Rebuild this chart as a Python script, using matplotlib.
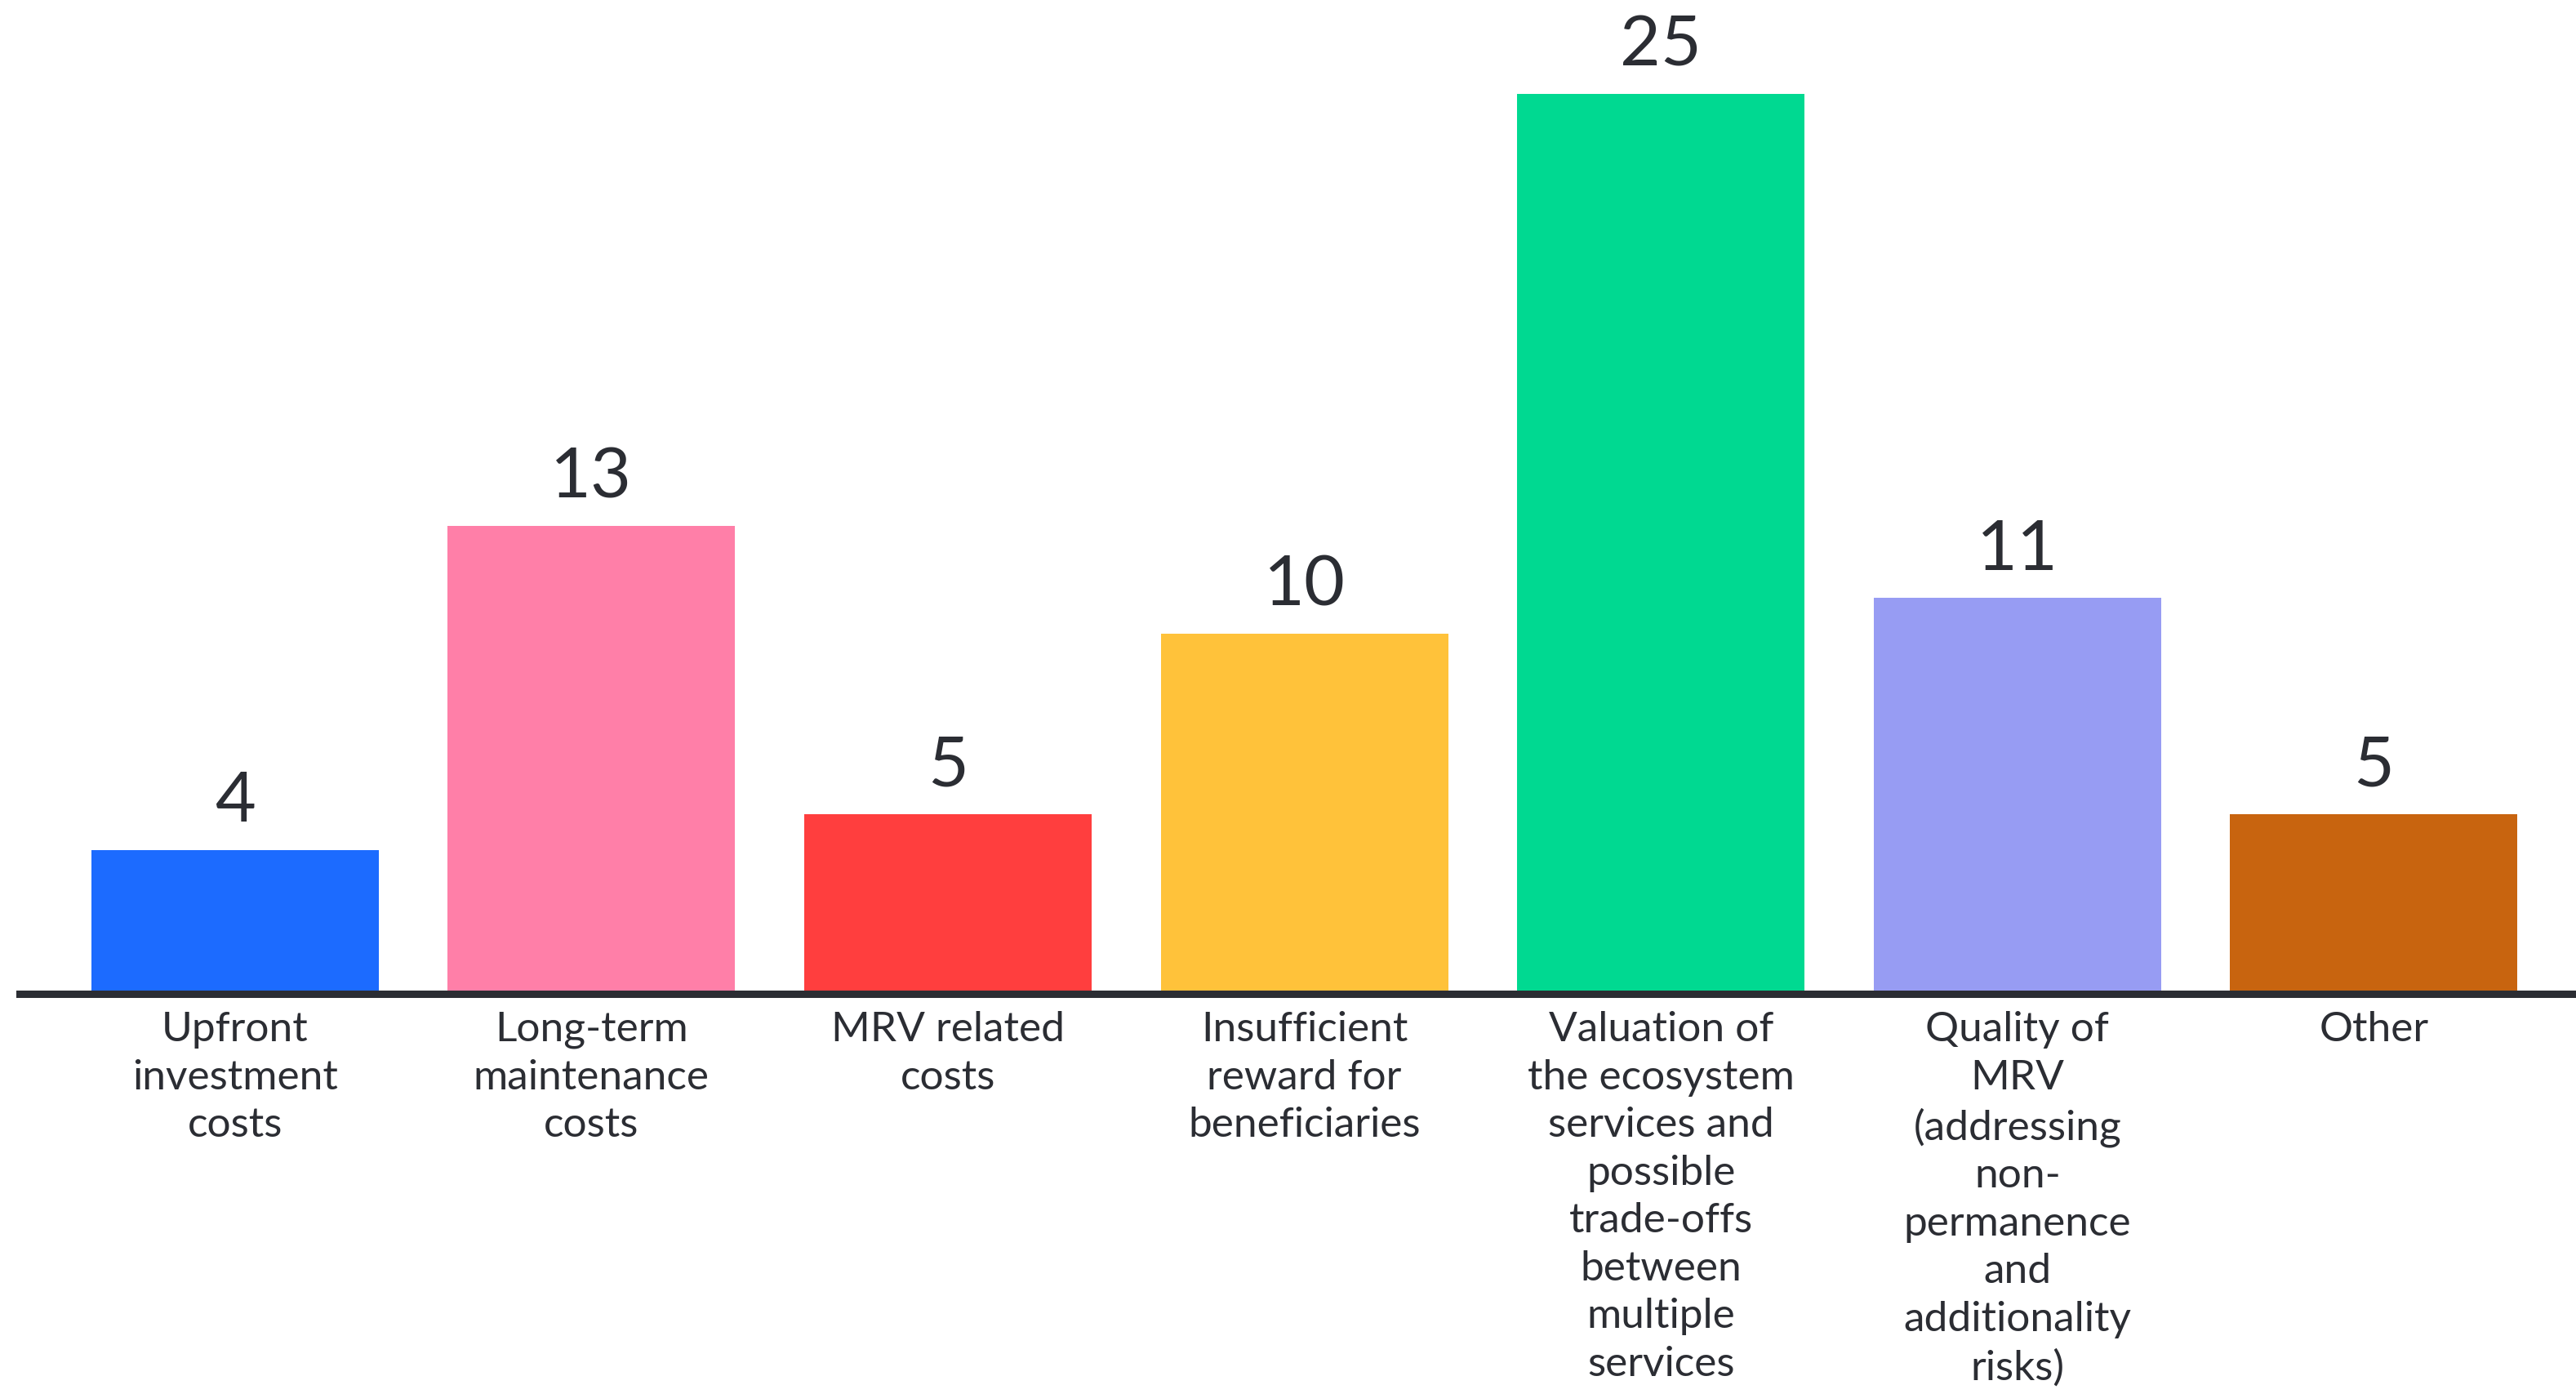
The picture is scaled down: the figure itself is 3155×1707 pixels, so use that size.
import numpy as np
import matplotlib
matplotlib.use('Agg')
import matplotlib.pyplot as plt

categories = [
    'Upfront\ninvestment\ncosts',
    'Long-term\nmaintenance\ncosts',
    'MRV related\ncosts',
    'Insufficient\nreward for\nbeneficiaries',
    'Valuation of\nthe ecosystem\nservices and\npossible\ntrade-offs\nbetween\nmultiple\nservices',
    'Quality of\nMRV\n(addressing\nnon-\npermanence\nand\nadditionality\nrisks)',
    'Other',
]
values = [4, 13, 5, 10, 25, 11, 5]
colors = ['#1c6bff', '#ff7fa8', '#ff3e3e', '#ffc23a', '#00d991', '#979cf3', '#c8640f']

text_color = '#2b2d33'
plt.rcParams['font.family'] = ['Lato', 'DejaVu Sans']

fig = plt.figure(figsize=(31.55, 17.07), dpi=100)
ax = fig.add_axes([0.0076, 0.287, 0.9924, 0.713])

x = np.arange(len(values))
ax.bar(x, values, width=0.806, color=colors, zorder=2)

for xi, v in zip(x, values):
    ax.annotate(str(v), (xi, v), xytext=(0, 14), textcoords='offset points',
                ha='center', va='bottom', fontsize=62, color=text_color)

ax.set_xlim(-0.604, 6.567)
ax.set_ylim(0, 27.6)
ax.set_xticks(x)
ax.set_xticklabels(categories, fontsize=37, color=text_color, linespacing=1.34)
ax.tick_params(axis='x', length=0, pad=15)
ax.set_yticks([])

for s in ['top', 'right', 'left']:
    ax.spines[s].set_visible(False)
ax.spines['bottom'].set_linewidth(6.5)
ax.spines['bottom'].set_color(text_color)
ax.spines['bottom'].set_zorder(3)

fig.savefig('out.png', dpi=100)
